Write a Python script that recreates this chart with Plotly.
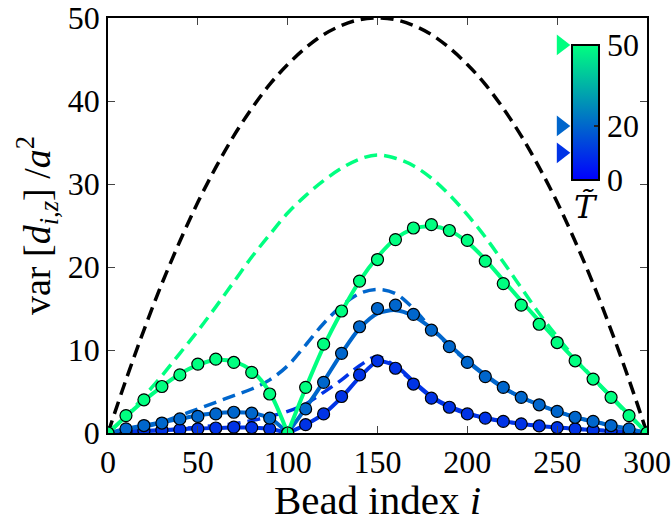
import plotly.graph_objects as go

# ---------------- data ----------------
bead_index = [0, 10, 20, 30, 40, 50, 60, 70, 80, 90, 100, 110, 120, 130, 140, 150,
              160, 170, 180, 190, 200, 210, 220, 230, 240, 250, 260, 270, 280, 290, 300]

T_values = [10, 20, 50]
T_colors = ["#0033E6", "#0066CC", "#00FF80"]

# simulation markers
sim_T10 = [0, 0.2, 0.3, 0.35, 0.4, 0.5, 0.6, 0.7, 0.65, 0.5, 0, 1.0, 2.3, 4.4, 7.0, 8.7,
           7.8, 5.9, 4.2, 3.1, 2.3, 1.8, 1.4, 1.1, 0.85, 0.65, 0.5, 0.35, 0.25, 0.15, 0]
sim_T20 = [0, 0.5, 0.9, 1.2, 1.7, 2.0, 2.3, 2.5, 2.4, 1.8, 0, 2.9, 6.1, 9.6, 12.8, 15.0,
           15.4, 14.3, 12.4, 10.4, 8.5, 6.8, 5.5, 4.3, 3.4, 2.6, 1.9, 1.4, 0.9, 0.5, 0]
sim_T50 = [0, 2.1, 4.0, 5.6, 7.0, 8.3, 8.9, 8.5, 7.3, 4.7, 0, 5.5, 10.7, 14.7, 18.3, 20.9,
           23.3, 24.7, 25.1, 24.4, 23.2, 20.7, 18.0, 15.4, 13.1, 10.9, 8.7, 6.5, 4.3, 2.1, 0]

# theory (solid)
th_T10 = [0, 0.15, 0.25, 0.35, 0.45, 0.55, 0.6, 0.65, 0.65, 0.5, 0, 1.0, 2.3, 4.3, 6.7, 8.6,
          8.1, 6.2, 4.4, 3.2, 2.4, 1.8, 1.4, 1.1, 0.85, 0.65, 0.5, 0.35, 0.25, 0.15, 0]
th_T20 = [0, 0.5, 0.9, 1.3, 1.7, 2.1, 2.4, 2.5, 2.4, 1.8, 0, 3.0, 6.2, 9.6, 12.6, 14.4,
          14.8, 14.1, 12.6, 10.6, 8.7, 7.0, 5.5, 4.3, 3.4, 2.6, 1.9, 1.4, 0.9, 0.5, 0]
th_T50 = [0, 2.0, 3.9, 5.6, 7.1, 8.2, 8.8, 8.6, 7.5, 4.9, 0, 5.4, 10.4, 14.6, 18.3, 21.2,
          23.4, 24.6, 24.9, 24.4, 23.0, 20.9, 18.4, 15.9, 13.5, 11.1, 8.8, 6.6, 4.4, 2.2, 0]

# reference (dashed)
ref_T10 = [0, 0.1, 0.2, 0.3, 0.5, 0.7, 0.9, 1.1, 1.5, 2.0, 2.6, 3.5, 4.9, 6.4, 8.1, 9.2,
           8.0, 6.1, 4.3, 3.1, 2.3, 1.8, 1.4, 1.1, 0.85, 0.65, 0.5, 0.35, 0.25, 0.15, 0]
ref_T20 = [0, 0.3, 0.7, 1.3, 2.1, 2.9, 3.7, 4.5, 5.3, 6.4, 8.1, 10.6, 13.2, 15.3, 16.8, 17.3,
           16.8, 15.0, 12.6, 10.5, 8.6, 6.9, 5.4, 4.3, 3.4, 2.6, 1.9, 1.4, 0.9, 0.5, 0]
ref_T50 = [0, 2.0, 4.4, 6.9, 9.6, 12.3, 15.2, 18.2, 21.2, 23.9, 26.5, 28.6, 30.4, 31.9, 33.0, 33.5,
           33.1, 32.2, 30.7, 28.7, 26.3, 23.6, 20.6, 17.5, 14.4, 11.6, 9.0, 6.6, 4.3, 2.1, 0]
ref_inf = [0, 6.4, 12.4, 18.0, 23.1, 27.8, 32.0, 35.8, 39.1, 42.0, 44.4, 46.4, 48.0, 49.1, 49.8, 50.0,
           49.8, 49.1, 48.0, 46.4, 44.4, 42.0, 39.1, 35.8, 32.0, 27.8, 23.1, 18.0, 12.4, 6.4, 0]

x_ticks = [0, 50, 100, 150, 200, 250, 300]
y_ticks = [0, 10, 20, 30, 40, 50]
cbar_ticks = [0, 20, 50]

# ---------------- figure ----------------
FONT = "Liberation Serif"
TICK_SIZE = 32
winter = [[0, "rgb(0,0,255)"], [1, "rgb(0,255,128)"]]
fig = go.Figure()

DASH = "13px,7px"
fig.add_trace(go.Scatter(x=bead_index, y=ref_inf, mode="lines",
                         line=dict(color="black", width=3.5, dash=DASH, shape="spline")))

def split(vals):
    k = bead_index.index(100)
    xs = bead_index[:k + 1] + [None] + bead_index[k:]
    ys = vals[:k + 1] + [None] + vals[k:]
    return xs, ys

series = [(ref_T10, th_T10, sim_T10, T_colors[0]),
          (ref_T20, th_T20, sim_T20, T_colors[1]),
          (ref_T50, th_T50, sim_T50, T_colors[2])]
for ref, th, sim, col in series:
    fig.add_trace(go.Scatter(x=bead_index, y=ref, mode="lines",
                             line=dict(color=col, width=3.5, dash=DASH, shape="spline")))
for ref, th, sim, col in series:
    xs, ys = split(th)
    fig.add_trace(go.Scatter(x=xs, y=ys, mode="lines", connectgaps=False,
                             line=dict(color=col, width=4, shape="spline", smoothing=0.8)))
    fig.add_trace(go.Scatter(x=bead_index, y=sim, mode="markers",
                             marker=dict(color=col, size=12, line=dict(color="black", width=1.2))))

# colour bar with triangle indicators
fig.add_trace(go.Scatter(
    x=[0.5] * len(T_values), y=T_values, xaxis="x2", yaxis="y2", mode="markers",
    cliponaxis=False,
    marker=dict(symbol="triangle-right", size=18, color=T_values, colorscale=winter,
                cmin=0, cmax=50, showscale=True, line=dict(width=0),
                colorbar=dict(x=0.8614, xanchor="left", xpad=0, ypad=0,
                              y=0.7726, yanchor="middle", len=0.325, lenmode="fraction",
                              thickness=27, outlinecolor="black", outlinewidth=2,
                              tickvals=cbar_ticks, ticktext=[str(v) for v in cbar_ticks],
                              ticks="inside", ticklen=6, tickcolor="#222", tickwidth=1.5,
                              tickfont=dict(family=FONT, size=TICK_SIZE, color="black")))))

axis_common = dict(showgrid=False, zeroline=False, showline=True, linecolor="black",
                   linewidth=1.5, mirror="allticks", ticks="inside", ticklen=7,
                   tickcolor="#444", tickwidth=1.2,
                   tickfont=dict(family=FONT, size=TICK_SIZE, color="black"))

fig.update_layout(
    width=672, height=523, showlegend=False,
    plot_bgcolor="white", paper_bgcolor="white",
    margin=dict(l=108, r=25, t=18, b=90, autoexpand=False),
    xaxis=dict(range=[0, 300], tickvals=x_ticks, **axis_common,
               title=dict(text="Bead index <i>i</i>", standoff=3,
                          font=dict(family=FONT, size=41, color="black"))),
    yaxis=dict(range=[0, 50], tickvals=y_ticks, **axis_common,
               title=dict(text="var [<i>d</i><sub><i>i,z</i></sub>] /<i>a</i><sup>2</sup>",
                          standoff=6, font=dict(family=FONT, size=38, color="black"))),
    xaxis2=dict(domain=[0.8206, 0.8614], range=[0, 1], visible=False, anchor="y2"),
    yaxis2=dict(domain=[0.6101, 0.9350], range=[0, 50], visible=False, anchor="x2"),
    annotations=[dict(text="<i>T\u0303</i>", x=0.886, y=0.545, xref="paper", yref="paper",
                      xanchor="center", yanchor="middle", showarrow=False,
                      font=dict(family="DejaVu Serif", size=32, color="black"))],
)

fig.write_html("out.html", config={"displayModeBar": False},
               post_script="document.body.style.margin='0';")
